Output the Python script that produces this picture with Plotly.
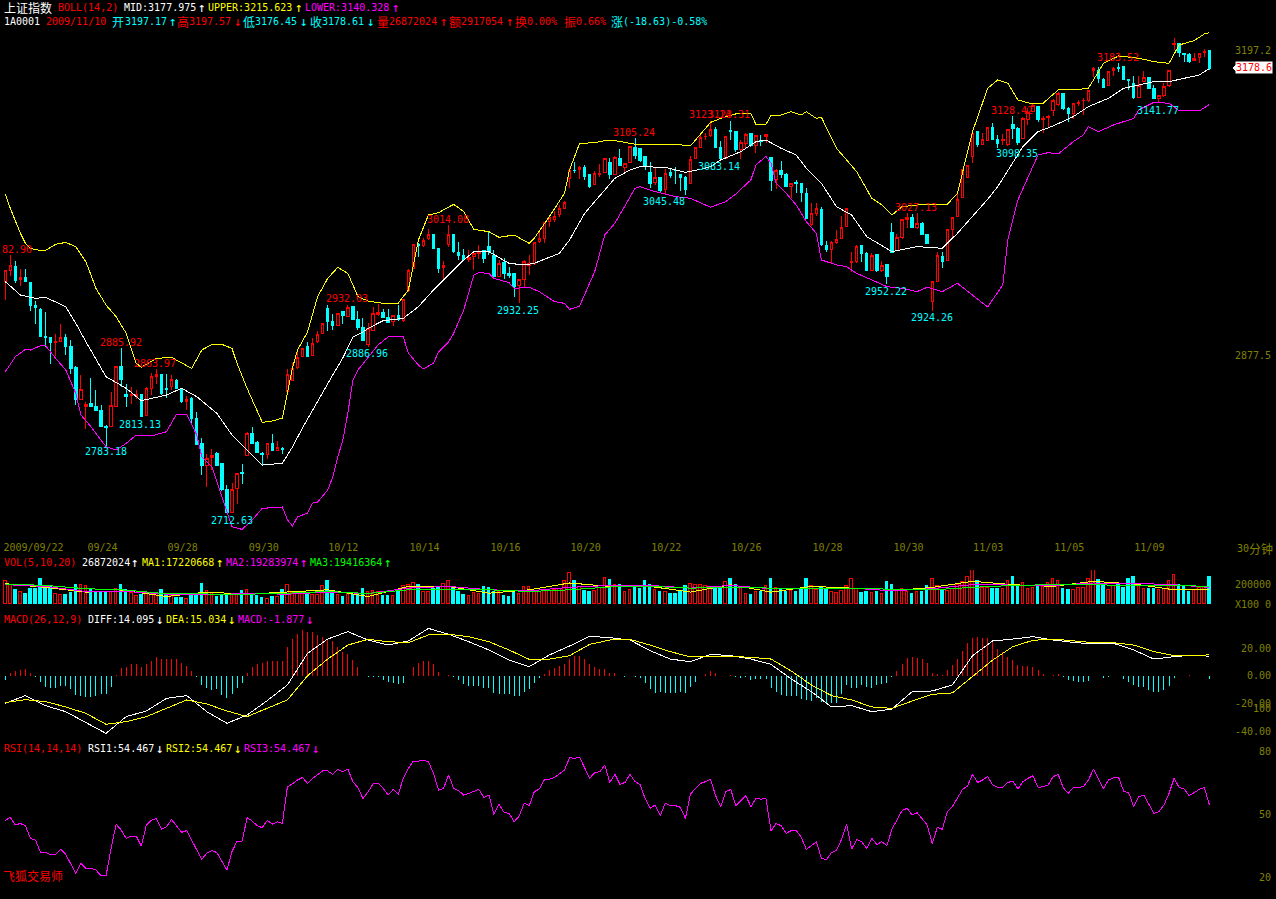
import plotly.graph_objects as go

# ---- values ----
open_ = [2955.5,2967,2971,2957,2959,2954.5,2930,2926,2897,2896.6,
2891,2892.4,2896.6,2887.5,2864.5,2831,2824,2827.5,2824.7,2819.8,
2803.7,2803,2824.7,2866.5,2836.5,2836,2835,2837,2814.9,2842.8,
2856,2858.2,2843.5,2845,2851.9,2843.2,2829.6,2832.7,2811.8,2785.6,
2762.9,2770.6,2775,2764,2737.8,2713,2738,2754.8,2773,2796,
2786.6,2775,2774,2785.6,2778.6,2780.7,2839.7,2851.9,2864.8,2876.3,
2887.5,2878,2892,2900.8,2926.3,2913.7,2909.5,2923.5,2918.2,2929.4,
2914.8,2907.1,2888.6,2903.6,2921,2923,2917.5,2913.4,2919,2914,
2945.5,2968.9,2994,2993,3000,3003.8,2989.8,2970,2994.3,3004.5,
2985.6,2981.8,2977.6,2981,2984.6,2988,2992.2,2982.8,2960.1,2975.1,
2963,2963,2950.4,2957.3,2972.3,2973.4,2996.8,3000.3,3017.7,3020.5,
3024.7,3031.3,3062.7,3071.8,3072.5,3074,3066.6,3056.5,3067.3,3069.7,
3079.5,3067.6,3084,3074.6,3079.5,3095.2,3094.5,3085.8,3069,3058.6,
3064.2,3051.6,3069,3071.8,3066.6,3064.2,3057.9,3083.7,3095.6,3106.4,
3107.8,3113.7,3095.6,3084.1,3113,3112,3092.8,3099.8,3109.9,3097,
3102.6,3107.4,3085.1,3062.1,3071.8,3066.6,3054.4,3058.9,3057.9,3047.4,
3014.3,3025.8,3030.7,2992.6,2988.8,2995.8,3000.3,3012.5,2974.8,2975.9,
2992.3,2984.6,2967.1,2982.9,2966.4,2972.4,3006.2,2987.4,3001.3,3020.2,
3022.6,3011.5,3016,3003.8,2934,2955.3,2981.1,2976.9,3009.7,3023,
3042.9,3063.8,3085.8,3112,3098.7,3102.6,3116.2,3103.3,3102.6,3098,
3119,3114.8,3105,3124.9,3132.9,3138.2,3124.9,3126.6,3134,3139.9,
3152.1,3135.7,3130.5,3141.3,3144.1,3144.1,3175.5,3175.5,3166.8,3160.5,
3175.5,3179,3180,3166.8,3161.9,3147.6,3164,3168.9,3156.7,3147.2,
3149.3,3160.1,3203,3203.8,3193.3,3192.3,3186.3,3189.8,3195,3197.17]

high = [2967,2982.9,2976.5,2968,2968,2954.5,2935,2927,2923,2896.6,
2900,2910.5,2900,2894,2866.5,2857,2829,2853.6,2841.4,2825.7,
2804.8,2839,2866.5,2885.92,2847.7,2845,2841.4,2837,2845,2859.6,
2863.97,2858.2,2858.2,2857,2853.3,2843.2,2835,2834.5,2818.4,2790.8,
2774.4,2779.3,2776.9,2764,2742,2743.7,2754,2764,2798,2802.3,
2788.4,2776.9,2785.6,2795,2788,2782,2863.4,2869.3,2881.6,2885.8,
2891.3,2895.5,2903,2911.3,2930.5,2921,2922.4,2924.5,2930.5,2929.4,
2924.5,2916.5,2911.3,2928,2931.5,2926,2926,2920,2930.5,2936.7,
2967.8,2994,2995,3000.3,3009.7,3003.8,2989.8,2976.9,3014.08,3004.8,
2996.8,2989,2988,2986.3,2993.3,2988,3008,2988,2977.6,2979.6,
2969.9,2963,2957.3,2977.6,2982.8,2996.8,3007.2,3017.7,3023,3028.9,
3035.2,3039,3073.6,3080.5,3076,3077,3067.6,3070.8,3077.7,3084,
3084,3086.5,3093.5,3078.8,3096.2,3105.24,3094.5,3085.8,3080.6,3074.6,
3064.2,3072.5,3072.5,3074.6,3066.6,3065.6,3086.5,3095.6,3109.5,3110.9,
3123.5,3117.2,3102.6,3107.4,3123.5,3112,3103.2,3110.2,3110.2,3108.1,
3108.5,3109.5,3085.1,3073.2,3081.3,3068.3,3058.6,3061.4,3057.9,3052.6,
3037.6,3036.9,3032.8,2997.5,2997.9,3009,3023.7,3031.7,2985.6,2993.3,
2992.3,2985.6,2984.6,2982.9,2976.9,2972.4,3016,3004.8,3020.2,3026.5,
3025.8,3026.5,3017.7,3003.8,2955.6,2985.6,2985.6,3009.7,3022.6,3047.4,
3072.5,3076.4,3110.2,3112,3110.2,3116.2,3120.7,3108.5,3109.5,3114.4,
3128.42,3116.5,3127,3136.4,3141,3138.9,3128.4,3129.4,3145.8,3153.9,
3152.8,3137.5,3141.6,3145.1,3147.6,3155.6,3179.3,3179.3,3167.8,3174.8,
3179.3,3183.52,3180,3166.8,3170.3,3170.3,3175.5,3168.9,3160.8,3150.4,
3162.6,3175.9,3209.7,3203.8,3193.3,3194,3194.7,3194.7,3198.2,3197.57]

low = [2935.7,2961,2953,2950,2955,2924.5,2910.5,2897,2887,2868.6,
2877,2892,2878,2858,2825.7,2831,2800.6,2824.7,2819.8,2803,
2783.18,2802.3,2823.3,2845,2824,2827,2831.7,2813.13,2814.2,2836,
2847.7,2836,2832.7,2841.4,2843.2,2828,2820.5,2805.8,2784.9,2752.4,
2739.5,2757.7,2762.9,2735.7,2712.63,2712.63,2722,2743,2772.3,2784.5,
2775.8,2762.9,2768.8,2777.9,2777.9,2774.4,2838,2851.9,2863.8,2876.3,
2877,2877.4,2890.3,2900.8,2903.6,2904.3,2908.8,2910.6,2917.5,2914.8,
2904.3,2893.1,2886.96,2903.6,2919,2916.9,2912,2908.5,2914,2913,
2944.4,2967.8,2980.4,2991.2,2998.5,2989,2963.6,2956,2990.8,2985.3,
2977.6,2976.9,2975.8,2967.1,2978.3,2974,2982.8,2960,2959.4,2957.3,
2958.4,2938.5,2932.25,2949,2961.9,2972.3,2995,2995,3012.5,3017.4,
3022.3,3030.6,3053,3068.3,3062,3061.3,3053.3,3055.8,3064.1,3069.7,
3062,3067.6,3076,3067.6,3078.8,3083,3080.6,3071.8,3053.3,3056.1,
3047.4,3045.48,3063,3057.2,3049.8,3045.7,3057.2,3083,3094.5,3103.2,
3106.7,3095.6,3082.3,3083,3103.2,3091,3083.14,3094.5,3095.6,3089.3,
3097,3099.8,3050.2,3051.6,3063.5,3053.7,3042.2,3047.4,3038.3,3020.5,
3013.6,3023.7,2992.6,2986.3,2974.1,2994.4,2999.6,3011.8,2964.7,2974.8,
2975.9,2966.1,2966.1,2965.4,2965.4,2952.22,2984.6,2986.7,2999.2,3010.8,
3011.1,3009.7,3003.8,2994.4,2924.26,2954.6,2969.2,2976.2,2999.2,3022.3,
3042.2,3063.1,3078.8,3096.3,3098,3101.9,3103.3,3095.2,3098.4,3097.3,
3104,3098.35,3104,3118.6,3132.2,3122.4,3110.9,3116.5,3128.4,3138.9,
3134.7,3122.4,3125.6,3138.9,3129.4,3143.4,3169.6,3162.6,3157.7,3159.8,
3170.3,3174.5,3166.1,3155.6,3146.5,3146.9,3164,3156.3,3145.8,3141.77,
3148.6,3159.1,3197.5,3190.5,3185.3,3183.5,3185.6,3184.2,3190.5,3176.45]

close = [2967.1,2972,2956.6,2959,2955,2930.4,2928,2897,2896,2891,
2892,2896.6,2887,2864,2831,2842,2826.8,2824.7,2820.5,2803.7,
2802.3,2825.4,2866.5,2852.6,2835,2837,2837,2814.2,2843.5,2856,
2858.2,2838,2842,2852.6,2843.2,2828.9,2831.7,2811.8,2784.9,2762.9,
2769.9,2773,2762.9,2737.4,2713,2737.4,2754,2753.8,2796,2785.6,
2775.8,2774,2785.6,2778.6,2781.4,2779.6,2857.8,2864.1,2875.6,2885,
2877,2890,2899.4,2911.3,2913,2908.5,2921.7,2919,2928,2914.8,
2906.4,2893.8,2906,2921.7,2922.4,2917.5,2912.3,2919,2914.8,2935.7,
2967.1,2993.3,2993,2998.5,3003.8,2989.4,2968.2,2971.3,3003.8,2986.3,
2981.8,2977.6,2980.4,2983.9,2986.3,2979.3,2986.3,2960.1,2974.1,2963,
2961.5,2949.7,2957.3,2976.5,2974.1,2996.1,2999.6,3017,3021.9,3023.6,
3031.3,3038.3,3071.8,3070.8,3074.6,3065.5,3054.4,3068.3,3068.3,3084,
3067.6,3085.1,3076.3,3078.8,3096.2,3087.5,3081.6,3075.3,3057.9,3064.2,
3050.2,3068.4,3065.6,3070.8,3063.8,3050.9,3083,3095.6,3106,3107.4,
3113.7,3095.6,3084.1,3106.7,3112,3093.5,3100.4,3109.2,3097,3108.1,
3101.9,3108.8,3060.7,3071.8,3067.6,3054.4,3057.9,3057.9,3048.1,3021.2,
3026.5,3031,2993.3,2988.1,2996.1,2998.6,3011.8,3031,2976.2,2991.6,
2984.6,2967.1,2982.2,2967.1,2971.3,2960.2,2985.3,3001.3,3019.5,3022.3,
3011.8,3016,3003.8,2995.1,2954.9,2981.8,2976.2,3009.7,3022.6,3041.1,
3072.5,3076.4,3110.2,3098,3103.3,3116.2,3103.3,3099.1,3103.6,3113.7,
3114.8,3100.5,3125.6,3131.9,3138.9,3124.9,3125.9,3127.7,3145.1,3152.1,
3136.4,3130.5,3141.6,3142.3,3145.1,3154.9,3177.6,3167.1,3158.4,3174.5,
3178.3,3178.3,3166.8,3165.4,3147.6,3160.8,3168.2,3157.4,3146.5,3149.3,
3159.1,3175.5,3203.8,3194.7,3192.6,3185.3,3188.8,3194,3195.7,3178.61]

# Bollinger lines: readings taken at the bars where the line bends
upper_bars = [0,1,3,4,5,7,8,10,12,14,16,18,20,22,24,26,27,30,33,35,37,39,41,43,45,46,48,51,53,55,56,57,58,60,62,
64,66,68,70,72,75,78,80,82,84,86,89,91,93,96,98,101,104,105,108,111,112,114,117,119,121,124,
126,130,133,136,140,143,145,148,149,151,152,154,156,158,159,161,162,165,167,169,172,174,176,178,181,184,187,189,
192,195,197,199,201,204,206,209,212,215,218,221,225,228,231,233,236,238,239]
boll_upper = [3046.6,3031.6,3005.5,2995,2989.8,2987.3,2987.7,2994,2996,2991.5,2975.8,2947.9,2930.4,2918.2,2900.8,2869.3,2865.2,2874.6,2875.6,2870,2864.1,2883.3,2889.2,2889.2,2885,2869.3,2843.2,2807.6,2809,2812.1,2838.3,2864.5,2883.3,2902.2,2939.2,
2958.4,2969.9,2963.6,2939.2,2934.6,2932.2,2932.2,2946.2,2998.5,3024.7,3027.1,3035.9,3028.2,3009.7,3007.2,3001.3,3003.8,2995,3000.3,3023,3047.4,3071.8,3099.7,3100.4,3102.5,3102.5,3099.7,
3098,3098.7,3098.7,3097,3121.7,3127.7,3130.5,3130.5,3119.7,3119.7,3129.1,3129.4,3132.9,3129.4,3132.9,3125.9,3127,3094.5,3082.3,3070.1,3042.2,3035.2,3024.7,3033.4,3035.2,3035.2,3035.9,3047.4,
3112,3157.4,3166.1,3162.6,3145.1,3140.9,3141.7,3155.6,3155.6,3157.4,3183.5,3191.2,3188.8,3185.3,3183.5,3202.7,3207.3,3214.2,3215.62]

mid_bars = [0,3,6,8,12,14,16,20,24,27,32,35,38,42,45,51,55,57,59,61,63,65,67,69,71,72,75,79,82,85,87,91,93,96,100,103,105,110,112,115,119,121,124,
126,131,133,135,138,140,142,146,149,151,154,157,159,162,165,168,171,176,181,186,189,
195,197,200,202,205,208,212,215,219,222,225,228,231,235,237,239]
boll_mid = [2954.9,2940.9,2937.4,2938.5,2928.7,2911.2,2892,2855.4,2843.2,2830.3,2836.2,2843.2,2834.5,2817,2794.3,2762.9,2764.7,2781.8,2801.7,2820.5,2838.3,2857.2,2875,2897,2902.2,2906,2914,2916.5,2928.7,2946.2,2956.6,2977.6,2986.3,2986.3,2974.1,2972.4,2974.1,2984.6,2998.5,3026.4,3050.9,3063.1,3071.8,
3075.3,3074.6,3071.8,3069.4,3072.5,3075.3,3082.3,3091,3101.5,3103.2,3094.5,3087.5,3073.6,3057.9,3033.4,3024.7,3002,2986.3,2991.6,2989.8,3005.5,
3041.1,3054.4,3078.8,3096.3,3112,3117.9,3127.7,3138.2,3146.9,3157.4,3160.8,3164.3,3164.3,3168.9,3171.3,3177.98]

lower_bars = [0,2,4,5,7,8,10,12,14,15,17,20,22,24,26,29,32,34,36,38,39,41,43,45,47,49,51,53,55,56,57,58,60,61,62,64,65,66,67,68,69,70,72,74,76,79,80,82,83,85,86,88,
89,91,93,94,96,97,100,101,104,106,109,111,112,114,117,119,121,125,
126,129,133,136,140,143,145,148,149,151,152,153,155,157,159,161,162,165,167,169,172,175,178,181,183,186,189,
192,195,198,199,201,203,205,207,209,212,214,215,217,220,224,225,228,231,233,237,239]
boll_lower = [2860.6,2876.3,2884,2883.3,2887.8,2887.8,2874.6,2862.4,2838,2815.3,2803,2782.1,2778.6,2785.6,2794.3,2793.3,2797.8,2816.3,2816.3,2794.3,2771.6,2761.2,2729.8,2698.3,2695.5,2705.3,2717.5,2718,2719,2705.4,2699,2708.5,2712.7,2723.1,2724.2,2736.8,2750.4,2771.3,2789.1,2817.4,2851.9,2862.4,2875,2888.6,2897,2897,2880.2,2867.6,2863.5,2869.7,2881.3,2891.7,
2900.8,2925.2,2961.9,2964.3,2963.6,2958.4,2953.8,2947.9,2949,2944.4,2934,2932.2,2925.9,2929.4,2965.4,3003.8,3016,3052.6,
3054.4,3049.2,3043.9,3042.2,3032.8,3038.7,3046.7,3061.4,3077.1,3086.1,3078.8,3057.9,3047.4,3035.2,3017.7,3005.5,2977.6,2972.4,2970.6,2963.6,2956.7,2949.7,2947.9,2944.5,2949,2944.5,2953.2,
2940.9,2928.4,2951.4,2998.5,3040.4,3064.9,3087.6,3090,3088.6,3101.5,3108.5,3117.2,3112,3119,3125.9,3134.7,3142.7,3141.7,3134,3133.6,3140.33]

# volume in thousands (axis unit X100 = 200 -> 200000)
volume = [227,193,142,119,98,153,153,254,176,166,98,92,92,108,193,186,183,142,108,119,
119,125,149,193,142,108,85,92,98,92,102,142,92,85,64,64,51,92,92,203,
132,108,75,81,98,92,92,132,139,98,81,64,47,68,68,142,193,108,119,102,
92,92,92,176,234,132,92,75,98,92,98,153,119,132,119,81,81,81,119,176,
193,214,193,
125,125,149,159,200,234,166,125,92,81,108,98,166,159,119,119,81,71,108,98,
173,166,125,125,132,132,142,153,234,315,234,166,132,125,132,159,261,244,193,186,
119,142,159,153,227,193,142,125,125,105,105,125,176,200,193,193,176,159,166,159,
217,254,186,159,102,92,125,119,183,254,159,142,125,132,125,136,254,176,136,166,
149,119,108,132,176,254,153,
108,119,108,119,98,220,193,132,149,125,98,119,119,183,254,176,132,132,149,193,
220,275,336,234,159,159,153,153,153,234,275,193,210,153,159,176,170,210,254,234,
153,142,142,159,159,254,336,244,176,142,176,193,159,254,275,193,153,153,153,142,
149,234,295,193,166,119,136,159,166,268.72]

sample8 = list(range(0, 240, 8)) + [239]
vol_ma1 = [203,166,119,132,75,119,98,119,142,75,176,176,108,142,210,176,176,119,193,119,176,159,132,166,227,193,176,227,200,142,142]
vol_ma2 = [193,176,125,125,98,92,105,98,119,105,159,176,142,132,166,186,186,159,186,153,153,159,132,153,193,193,186,210,207,193,166]
vol_ma3 = [200,186,153,139,102,102,98,108,125,105,142,142,142,125,142,170,176,159,166,159,159,153,149,142,166,186,193,193,193,186,176]

macd_hist = [-2.9,1.9,3.8,4.3,5,2.4,-0.5,-4.3,-7.6,-8.6,-8.3,-7.4,-6.9,-9.3,-13.6,-14,-14.8,-14.8,-14,-13.1,
-13.1,-7.9,0.7,6,6.7,8.3,8.3,6.4,8.3,11,13.8,12.1,11.9,12.1,11.9,9,7.1,3.8,-0.5,-6.4,
-8.8,-10,-9.3,-13.6,-16,-13.1,-8.3,-5.2,2.4,6.7,8.3,9,10.7,10.7,11,11,21,26.4,30.2,32.6,
31.2,31.2,29.3,28.1,26.4,25,20.5,17.4,15.5,11.4,6.7,0,-1,-0.5,-0.7,-2.6,-4,-5.2,-5.5,-4.8,
0.2,6.4,9,
10.7,10.7,8.6,2.9,0,0.7,-0.5,-2.9,-5.7,-7.1,-7.1,-7.1,-8.3,-8.8,-11.9,-12.6,-13.1,-13.1,-14.5,-14,
-11.2,-9.5,-4.8,-1.2,1.2,4.3,6,7.1,8.8,12.1,14,14.5,12.1,8.6,6.7,5,5,2.1,2.1,0.2,
-0.5,0,-0.5,-1.2,-5,-9.3,-12.4,-11.2,-11.9,-11.9,-11.9,-11.2,-11.9,-7.6,-4.3,0,1.4,3.8,2.4,0,
0.2,0.7,-0.5,-1.2,-0.7,-2.9,-1.9,-1.9,-2.1,-8.3,-11.4,-13.6,-14.3,-14.3,-14,-16.4,-17.1,-17.9,-16,-18.3,
-19,-19,-19,-12.9,-6.4,-8.8,-8.8,
-6.4,-7.6,-8.3,-6.4,-5.7,-4.8,-0.5,3.6,8.6,13.1,13.6,13.1,12.1,9.5,2.1,1.4,0.5,4.5,7.9,12.1,
18.1,23.3,27.4,27.9,27.4,26.9,24,19.3,16.9,13.8,11.4,7.9,7.1,7.1,6.2,4.3,1.2,0,0.5,1.2,
-0.5,-2.9,-3.6,-4.3,-4.3,-3.3,0,0,-1.2,-0.5,0,0,-2.1,-4.3,-6.7,-7.6,-7.6,-9.8,-11.2,-11.2,
-10,-7.1,-1.4,0,0.2,0.5,0,0,0.2,-1.88]

sample4 = list(range(0, 240, 4)) + [239]
diff = [-19.5,-14,-21.2,-25.5,-33.3,-41,-29,-25,-16,-14,-25.5,-33.8,-27.9,-17.6,-6.4,16.2,26.4,31.7,25.7,22.1,25,
34,29.8,24.5,18.6,11.4,6.7,15,21.4,28.3,27.4,25.7,18.1,12.1,10.2,15.5,14.5,12.1,8.3,-2.1,-11.2,-22.1,-21.2,
-25.5,-23.6,-11.2,-10.7,-6.4,14.5,25,26.4,28.1,25.7,24,22.9,23.3,18.6,12.1,13.8,15,14.095]
dea = [-19,-16.9,-18.3,-22.1,-26.7,-34.5,-32.6,-29,-23.1,-17.1,-20,-25,-29,-23.1,-17.1,0.2,12.1,22.1,26.2,24.5,23.8,
29.3,29.8,28.1,24.5,18.6,11.9,12.1,14.5,22.6,25.7,26.2,22.1,17.4,13.6,13.6,14,13.3,12.1,3.6,-6.4,-14,-17.1,
-22.1,-23.1,-17.9,-13.1,-12.1,-0.5,11.4,21,25.5,26.4,25,23.8,23.8,22.1,17.4,14.5,14.8,15.03]

rsi = [47,48.4,44.8,45.5,44.4,38.4,37.6,31.7,31.7,30.5,30.9,33.3,30.8,26.5,21.7,26.5,24.1,24.1,23.3,20.6,
20.6,33.6,45.1,42.4,38.4,39.5,39.5,34.7,44.8,47.1,47.9,42.8,43.9,47.4,44.4,41.3,42.1,37.6,32.8,28.4,
31.3,32.5,31.7,27.3,23.3,32.1,37.1,37.1,48.2,46.7,44.4,43.5,47,45.2,46.3,45.5,63,64.3,66.2,67.4,
64.6,67,68.6,70.5,70.5,68.9,71.3,70.1,71.4,65.4,62.5,57.4,60.6,64.3,64.6,62.2,59,61.7,59.4,67,
71.7,75.2,75.2,75.7,74.9,
69.3,61.4,62.2,68.6,62.2,61.1,59,59.8,60.6,61.7,57.9,59,49.8,54.6,50.8,50.3,46.3,49,55.1,54,
60.6,61.9,66.2,66.5,67.3,68.9,70.9,76.8,76.5,77,71.7,67,69.7,70.1,73.3,65,68.9,64.1,65,68.9,
65.4,64.1,57.4,52.7,54.3,49.2,55.1,54,54,53.2,47.9,59.4,62.2,64.6,65.4,66.5,58.7,53.5,60.6,61.7,
54,56.3,58.7,53.5,57.4,57.1,57.4,41.9,45.5,44.4,40.8,42.1,42.1,38.9,33.2,34.9,36.8,28.9,28.2,31.6,
32.8,37.9,45.1,33.2,37.9,
36.8,33.6,38.4,35.5,36.8,34.9,42.8,47.1,51.6,52.7,49.5,50.6,47.4,44.8,36,43.6,42.7,51.1,53.5,57.4,
61.7,63.3,68.9,65,66.2,67.8,63.8,62.7,62.7,65,65.7,61.9,65.4,67,68.2,62.7,63,63.8,67.8,68.9,
62.5,59.8,62.7,62.7,63,66.2,71.3,66.5,62.2,66.2,67.3,67.4,60.9,60.1,53.5,58.2,59,54.7,50.3,51.1,
54.3,59.8,67,62.7,61.9,58.7,60.3,61.7,62.7,54.467]

date_labels = ["2009/09/22","09/24","09/28","09/30","10/12","10/14","10/16","10/20","10/22","10/26","10/28","10/30","11/03","11/05","11/09"]
date_bars = [5.6,19.3,35.2,51.3,67.1,83.2,99.3,115.2,131.2,147.1,163.2,179.3,195.1,211.2,227.1]

high_marks = [("2885.92",121,342),("2863.97",155,363),("2932.03",347,298),("3014.08",448,220),("3105.24",634,132),
              ("3123.14",710,115),("3123.31",729,115),("3027.13",916,207),("3128.42",1012,110),("3183.52",1118,58)]
low_marks = [("2783.18",106,452),("2813.13",140,424),("2712.63",232,520),("2886.96",367,353),("2932.25",518,310),
             ("3045.48",664,202),("3083.14",719,166),("2952.22",886,291),("2924.26",932,317),("3098.35",1017,153),("3141.77",1158,110)]

assert all(len(s) == 240 for s in (open_, high, low, close, volume, macd_hist, rsi))
assert all(len(s) == 61 for s in (diff, dea))
assert all(len(s) == 31 for s in (vol_ma1, vol_ma2, vol_ma3))
assert len(upper_bars) == len(boll_upper) and len(mid_bars) == len(boll_mid) and len(lower_bars) == len(boll_lower)

# ---- styling and layout ----
W, H = 1276, 899
RED, CYAN, YEL, MAG, GRN, WHT, OLV = "#ff0000", "#00ffff", "#ffff00", "#ff00ff", "#00ff00", "#ffffff", "#808000"
MONO, CJK = "DejaVu Sans Mono", "Noto Sans CJK SC"
bars = list(range(240))
rising = [c >= o for o, c in zip(open_, close)]
NB = "\u00a0"


def ax_y(top, bottom, lo, hi, vals, texts):
    return dict(domain=[1 - bottom / H, 1 - top / H], range=[lo, hi], side="right", anchor="x",
                tickmode="array", tickvals=vals, ticktext=texts, ticks="", showgrid=False, zeroline=False,
                showline=False, automargin=False, tickfont=dict(family=MONO, size=10, color=OLV))


fig = go.Figure()


def line(x, y, color, axis):
    fig.add_trace(go.Scatter(x=x, y=y, mode="lines", line=dict(color=color, width=1), yaxis=axis, xaxis="x",
                             showlegend=False, hoverinfo="skip"))


def stems(keep, color):
    xs, ys = [], []
    for i, v in enumerate(macd_hist):
        if keep(v):
            xs += [i, i, None]
            ys += [0, v, None]
    line(xs, ys, color, "y3")


fig.add_trace(go.Candlestick(x=bars, open=open_, high=high, low=low, close=close, yaxis="y", xaxis="x",
                             whiskerwidth=0, showlegend=False,
                             increasing=dict(line=dict(color=RED, width=1), fillcolor="#000000"),
                             decreasing=dict(line=dict(color=CYAN, width=1), fillcolor=CYAN)))
line(mid_bars, boll_mid, WHT, "y")
line(upper_bars, boll_upper, YEL, "y")
line(lower_bars, boll_lower, MAG, "y")

fig.add_trace(go.Bar(x=bars, y=volume, yaxis="y2", xaxis="x", width=0.5, showlegend=False,
                     marker=dict(color=["#000000" if r else CYAN for r in rising],
                                 line=dict(color=[RED if r else CYAN for r in rising], width=1))))
line(sample8, vol_ma1, YEL, "y2")
line(sample8, vol_ma2, MAG, "y2")
line(sample8, vol_ma3, GRN, "y2")

stems(lambda v: v >= 0, RED)
stems(lambda v: v < 0, CYAN)
line(sample4, diff, WHT, "y3")
line(sample4, dea, YEL, "y3")

line(bars, rsi, MAG, "y4")

ann = []


def seg(px, py, text, color, anchor="left", family=MONO, size=10, bg=None):
    a = dict(xref="paper", yref="paper", x=px / W, y=1 - py / H, text=text, showarrow=False, xanchor=anchor,
             yanchor="middle", borderpad=0, font=dict(family=family, size=size, color=color))
    if bg:
        a["bgcolor"] = bg
    ann.append(a)


def cjk(px, py, text, color):
    seg(px, py, text, color, family=CJK, size=12)


def arrow(px, py, text, color):
    seg(px, py, text, color, family=MONO, size=13)


# header row 1
cjk(3, 7, "上证指数", WHT)
seg(57, 7, "BOLL(14,2)", RED)
seg(123, 7, "MID:3177.975", WHT); arrow(197, 7, "↑", WHT)
seg(207, 7, "UPPER:3215.623", YEL); arrow(294, 7, "↑", YEL)
seg(304, 7, "LOWER:3140.328", MAG); arrow(391, 7, "↑", MAG)
# header row 2
seg(3, 21, "1A0001", WHT)
seg(45, 21, "2009/11/10", RED)
cjk(111, 21, "开", CYAN); seg(124, 21, "3197.17", CYAN); arrow(168, 21, "↑", CYAN)
cjk(176, 21, "高", RED); seg(188, 21, "3197.57", RED); arrow(233, 21, "↓", RED)
cjk(242, 21, "低", CYAN); seg(254, 21, "3176.45", CYAN); arrow(299, 21, "↓", CYAN)
cjk(309, 21, "收", CYAN); seg(321, 21, "3178.61", CYAN); arrow(366, 21, "↓", CYAN)
cjk(376, 21, "量", RED); seg(388, 21, "26872024", RED); arrow(439, 21, "↑", RED)
cjk(448, 21, "额", RED); seg(460, 21, "2917054", RED); arrow(505, 21, "↑", RED)
cjk(514, 21, "换", RED); seg(526, 21, "0.00%", RED)
cjk(563, 21, "振", RED); seg(575, 21, "0.66%", RED)
cjk(610, 21, "涨", CYAN); seg(622, 21, "(-18.63)-0.58%", CYAN)
# panel titles
seg(3, 562, "VOL(5,10,20)", RED)
seg(81, 562, "26872024", WHT); arrow(130, 562, "↑", WHT)
seg(141, 562, "MA1:17220668", YEL); arrow(215, 562, "↑", YEL)
seg(225, 562, "MA2:19283974", MAG); arrow(299, 562, "↑", MAG)
seg(309, 562, "MA3:19416364", GRN); arrow(383, 562, "↑", GRN)
seg(3, 619, "MACD(26,12,9)", RED)
seg(87, 619, "DIFF:14.095", WHT); arrow(155, 619, "↓", WHT)
seg(165, 619, "DEA:15.034", YEL); arrow(227, 619, "↓", YEL)
seg(237, 619, "MACD:-1.877", MAG); arrow(305, 619, "↓", MAG)
seg(3, 748, "RSI(14,14,14)", RED)
seg(87, 748, "RSI1:54.467", WHT); arrow(155, 748, "↓", WHT)
seg(165, 748, "RSI2:54.467", YEL); arrow(233, 748, "↓", YEL)
seg(243, 748, "RSI3:54.467", MAG); arrow(311, 748, "↓", MAG)
cjk(2, 875, "飞狐交易师", RED)
# period label and last-price tag
seg(1236, 548, "30", OLV); cjk(1248, 548, "分钟", OLV)
seg(1273, 68, "3178.6", RED, anchor="right", bg=WHT)
# extreme-price marks
seg(1, 249, "82.90", RED)
for t, cx, cy in high_marks:
    seg(cx, cy, t, RED, anchor="center")
for t, cx, cy in low_marks:
    seg(cx, cy, t, CYAN, anchor="center")

tri = f"M {1233/W} {1-68/H} L {1238/W} {1-62/H} L {1238/W} {1-74/H} Z"

fig.update_layout(
    width=W, height=H, margin=dict(l=0, r=0, t=0, b=0, pad=0, autoexpand=False), autosize=False,
    paper_bgcolor="#000000", plot_bgcolor="rgba(0,0,0,0)", showlegend=False, barmode="overlay", bargap=0,
    annotations=ann,
    shapes=[dict(type="path", xref="paper", yref="paper", path=tri, fillcolor=WHT, line=dict(width=0))],
    xaxis=dict(domain=[0, 1234 / W], range=[-1.052, 243.9], anchor="y", rangeslider=dict(visible=False),
               tickmode="array", tickvals=date_bars, ticktext=date_labels, ticks="", showgrid=False,
               zeroline=False, showline=False, automargin=False, tickfont=dict(family=MONO, size=10, color=OLV)),
    yaxis=ax_y(30, 540, 2684.4, 3218.4, [3197.2, 2877.5], ["3197.2", "2877.5"]),
    yaxis2=ax_y(570, 604, 0, 340, [0, 200], ["X100" + NB + "0", "200000"]),
    yaxis3=ax_y(620, 745, -49.3, 40, [20, 0, -20, -40], [NB + "20.00", NB + NB + "0.00", "-20.00", "-40.00"]),
    yaxis4=ax_y(705, 885, 16.2, 101.9, [100, 80, 50, 20], [NB * 3 + "100", NB * 4 + "80", NB * 4 + "50", NB * 4 + "20"]),
)

fig.write_html("out.html", config=dict(displayModeBar=False),
               post_script="document.body.style.margin='0';document.body.style.background='#000';"
                           "document.documentElement.style.overflow='hidden';"
                           "var s=document.createElement('style');"
                           "s.textContent='.main-svg path{shape-rendering:crispEdges !important}';"
                           "document.head.appendChild(s);")
